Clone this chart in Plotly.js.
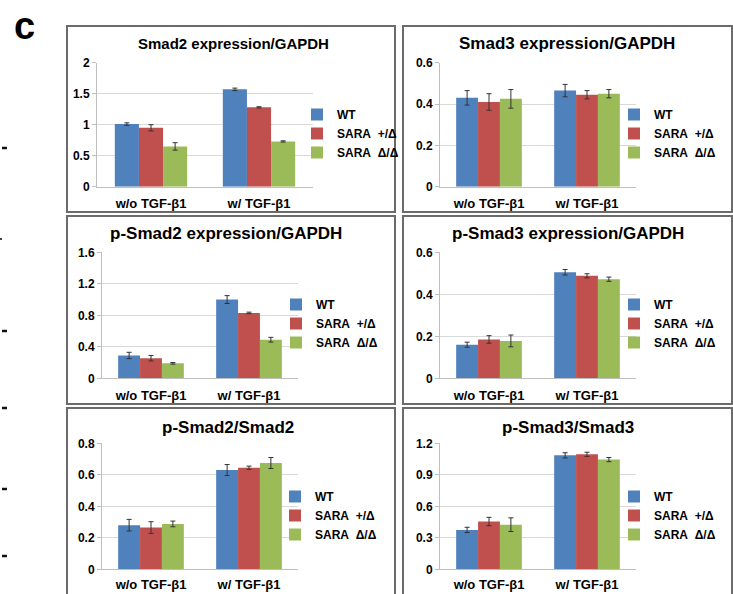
<!DOCTYPE html>
<html><head><meta charset="utf-8">
<script src="https://cdn.plot.ly/plotly-3.0.1.min.js"></script>
<style>html,body{margin:0;padding:0;background:#fff}#chart{width:733px;height:594px}</style>
</head><body><div id="chart"></div>
<script>
// ---------- DATA ----------
const categories = ['w/o TGF-β1', 'w/ TGF-β1'];
const seriesNames = ['WT', 'SARA\u00a0\u00a0+/Δ', 'SARA\u00a0\u00a0Δ/Δ'];
const panelTitles = ['Smad2 expression/GAPDH', 'Smad3 expression/GAPDH',
  'p-Smad2 expression/GAPDH', 'p-Smad3 expression/GAPDH', 'p-Smad2/Smad2', 'p-Smad3/Smad3'];

// Smad2 expression/GAPDH
const smad2_WT = [1.01, 1.57], smad2_WT_err = [0.02, 0.02];
const smad2_Het = [0.95, 1.28], smad2_Het_err = [0.05, 0.01];
const smad2_Hom = [0.65, 0.73], smad2_Hom_err = [0.06, 0.01];
// Smad3 expression/GAPDH
const smad3_WT = [0.43, 0.465], smad3_WT_err = [0.035, 0.03];
const smad3_Het = [0.41, 0.445], smad3_Het_err = [0.04, 0.02];
const smad3_Hom = [0.425, 0.45], smad3_Hom_err = [0.045, 0.02];
// p-Smad2 expression/GAPDH
const pSmad2_WT = [0.29, 1.0], pSmad2_WT_err = [0.04, 0.05];
const pSmad2_Het = [0.255, 0.83], pSmad2_Het_err = [0.035, 0.01];
const pSmad2_Hom = [0.19, 0.49], pSmad2_Hom_err = [0.01, 0.03];
// p-Smad3 expression/GAPDH
const pSmad3_WT = [0.16, 0.505], pSmad3_WT_err = [0.012, 0.013];
const pSmad3_Het = [0.185, 0.488], pSmad3_Het_err = [0.018, 0.01];
const pSmad3_Hom = [0.178, 0.472], pSmad3_Hom_err = [0.028, 0.01];
// p-Smad2/Smad2
const ratio2_WT = [0.28, 0.63], ratio2_WT_err = [0.037, 0.035];
const ratio2_Het = [0.265, 0.645], ratio2_Het_err = [0.037, 0.01];
const ratio2_Hom = [0.288, 0.675], ratio2_Hom_err = [0.018, 0.035];
// p-Smad3/Smad3
const ratio3_WT = [0.375, 1.085], ratio3_WT_err = [0.025, 0.025];
const ratio3_Het = [0.455, 1.095], ratio3_Het_err = [0.04, 0.02];
const ratio3_Hom = [0.425, 1.045], ratio3_Hom_err = [0.065, 0.02];

const yMax = [2, 0.6, 1.6, 0.6, 0.8, 1.2];
const yStep = [0.5, 0.2, 0.4, 0.2, 0.2, 0.3];

// ---------- BUILD ----------
const panelValues = [
  [[smad2_WT, smad2_WT_err], [smad2_Het, smad2_Het_err], [smad2_Hom, smad2_Hom_err]],
  [[smad3_WT, smad3_WT_err], [smad3_Het, smad3_Het_err], [smad3_Hom, smad3_Hom_err]],
  [[pSmad2_WT, pSmad2_WT_err], [pSmad2_Het, pSmad2_Het_err], [pSmad2_Hom, pSmad2_Hom_err]],
  [[pSmad3_WT, pSmad3_WT_err], [pSmad3_Het, pSmad3_Het_err], [pSmad3_Hom, pSmad3_Hom_err]],
  [[ratio2_WT, ratio2_WT_err], [ratio2_Het, ratio2_Het_err], [ratio2_Hom, ratio2_Hom_err]],
  [[ratio3_WT, ratio3_WT_err], [ratio3_Het, ratio3_Het_err], [ratio3_Hom, ratio3_Hom_err]]
];

const W = 733, H = 594;
const FONT = 'Arial, "Liberation Sans", sans-serif';
const colors = ['#4F81BD', '#C0504D', '#9BBB59'];

// pixel geometry: plot area [left, right, top, bottom], border box, title [cx, cy, size], legend [left, top], category label offset
const geo = [
  {plot: [97, 313, 62.7, 186.7], box: [67, 395, 26, 212], title: [233, 43, 15], leg: [297, 100], catOff: 5},
  {plot: [440, 636, 62.7, 186.7], box: [403, 732, 26, 212], title: [567, 43, 17], leg: [614, 100], catOff: 5},
  {plot: [102, 298, 252.3, 378.3], box: [67, 395, 216, 404], title: [226, 233, 17], leg: [276, 290], catOff: 5},
  {plot: [440, 636, 252.3, 378.3], box: [403, 732, 216, 404], title: [568, 233, 17], leg: [614, 290], catOff: 5},
  {plot: [102, 298, 443.3, 569.3], box: [67, 395, 408, 600], title: [228, 427, 17], leg: [275, 482], catOff: 3},
  {plot: [440, 636, 443.3, 569.3], box: [403, 732, 408, 600], title: [568, 427, 17], leg: [614, 482], catOff: 3}
];

const traces = [];
const layout = {
  width: W, height: H,
  margin: {l: 0, r: 0, t: 0, b: 0},
  paper_bgcolor: '#fff', plot_bgcolor: '#fff',
  font: {family: FONT, color: '#000'},
  barmode: 'group', bargap: 0.33, bargroupgap: 0,
  showlegend: true,
  annotations: [], shapes: []
};

geo.forEach((g, i) => {
  const s = i === 0 ? '' : String(i + 1);
  const [l, r, t, b] = g.plot;
  layout['xaxis' + s] = {
    domain: [l / W, r / W], anchor: 'y' + s, type: 'category',
    showgrid: false, showline: true, linecolor: '#bfbfbf', linewidth: 1,
    ticks: 'outside', ticklen: g.catOff, tickcolor: 'rgba(0,0,0,0)',
    tickfont: {size: 13, weight: 'bold', color: '#000', family: FONT},
    fixedrange: true
  };
  layout['yaxis' + s] = {
    domain: [1 - b / H, 1 - t / H], anchor: 'x' + s,
    range: [0, yMax[i]], dtick: yStep[i], tick0: 0,
    showgrid: true, gridcolor: '#d9d9d9', gridwidth: 1,
    showline: true, linecolor: '#bfbfbf', linewidth: 1,
    ticks: 'outside', ticklen: 4, tickcolor: '#bfbfbf',
    zeroline: false, tickfont: {size: 12, weight: 'bold', color: '#000', family: FONT},
    fixedrange: true
  };
  layout['legend' + s] = {
    x: g.leg[0] / W, y: 1 - g.leg[1] / H, xanchor: 'left', yanchor: 'top',
    xref: 'paper', yref: 'paper',
    bgcolor: 'rgba(0,0,0,0)', borderwidth: 0,
    font: {size: 12, weight: 'bold', color: '#000', family: FONT},
    itemclick: false, itemdoubleclick: false, tracegroupgap: 0
  };
  panelValues[i].forEach((sv, k) => {
    traces.push({
      type: 'bar', x: categories, y: sv[0], name: seriesNames[k],
      xaxis: 'x' + s, yaxis: 'y' + s, legend: 'legend' + s, showlegend: true,
      marker: {color: colors[k], line: {width: 0}},
      error_y: {type: 'data', array: sv[1], visible: true, color: '#333', thickness: 1, width: 2.5},
      hoverinfo: 'skip'
    });
  });
  layout.annotations.push({
    text: panelTitles[i], xref: 'paper', yref: 'paper',
    x: g.title[0] / W, y: 1 - g.title[1] / H, xanchor: 'center', yanchor: 'middle',
    showarrow: false, font: {size: g.title[2], weight: 'bold', color: '#000', family: FONT}
  });
  const [bx0, bx1, by0, by1] = g.box;
  layout.shapes.push({
    type: 'rect', xref: 'paper', yref: 'paper',
    x0: bx0 / W, x1: bx1 / W, y0: 1 - by1 / H, y1: 1 - by0 / H,
    line: {color: '#6b6b6b', width: 2}, fillcolor: 'rgba(0,0,0,0)', layer: 'above'
  });
});

// panel label
layout.annotations.push({
  text: 'c', xref: 'paper', yref: 'paper', x: 24 / W, y: 1 - 25.5 / H,
  xanchor: 'center', yanchor: 'middle', showarrow: false,
  font: {size: 38, weight: 'bold', color: '#000', family: FONT}
});
// small edge marks from neighbouring panel
[148, 331, 408, 489, 556].forEach(py => {
  layout.shapes.push({type: 'line', xref: 'paper', yref: 'paper',
    x0: 2 / W, x1: 7 / W, y0: 1 - py / H, y1: 1 - py / H,
    line: {color: '#111', width: 2.5}});
});
layout.shapes.push({type: 'line', xref: 'paper', yref: 'paper',
  x0: 0, x1: 2 / W, y0: 1 - 239 / H, y1: 1 - 239 / H, line: {color: '#444', width: 2}});

Plotly.newPlot('chart', traces, layout, {staticPlot: true, displayModeBar: false});
</script>
</body></html>
